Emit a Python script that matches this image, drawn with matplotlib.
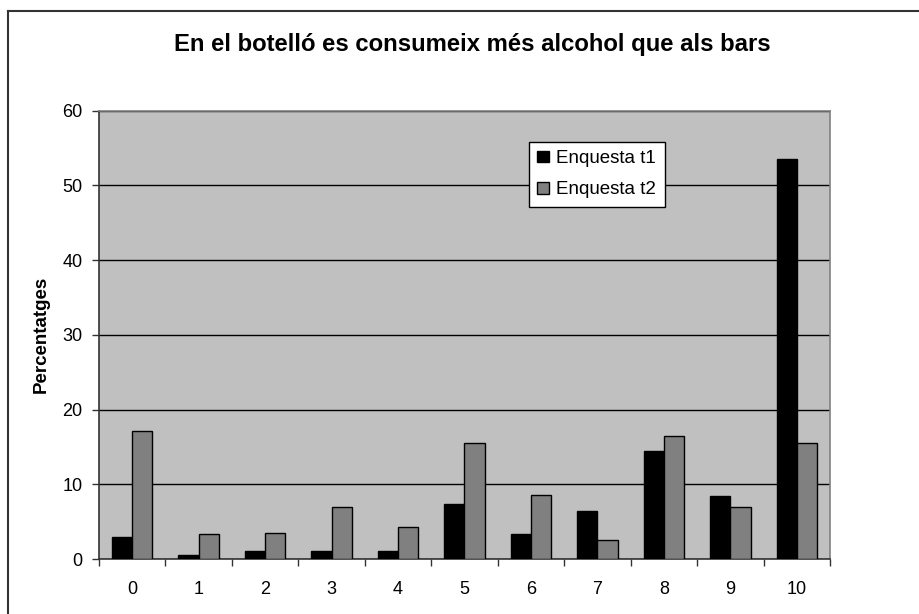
import numpy as np
import matplotlib
matplotlib.use("Agg")
import matplotlib.pyplot as plt
from matplotlib.lines import Line2D

plt.rcParams["font.family"] = ["Liberation Sans", "DejaVu Sans"]

# data
categories = ["0", "1", "2", "3", "4", "5", "6", "7", "8", "9", "10"]
enquesta_t1 = [3.0, 0.6, 1.1, 1.1, 1.1, 7.4, 3.3, 6.4, 14.5, 8.4, 53.5]
enquesta_t2 = [17.1, 3.4, 3.5, 6.9, 4.3, 15.5, 8.6, 2.6, 16.4, 6.9, 15.5]
series_names = ["Enquesta t1", "Enquesta t2"]
yticks = [0, 10, 20, 30, 40, 50, 60]

W, H = 919, 614
fig = plt.figure(figsize=(W / 100, H / 100), dpi=100)

# outer chart frame (cut off at right and bottom in the reference)
fx = 7.5 / W
fy = 1 - 10.7 / H
fig.add_artist(Line2D([fx, fx], [0, fy], transform=fig.transFigure, color="#333333", lw=1.5))
fig.add_artist(Line2D([fx, 1], [fy, fy], transform=fig.transFigure, color="#333333", lw=1.5))

left, right, top, bottom = 99, 830, 110.7, 559
ax = fig.add_axes([left / W, 1 - bottom / H, (right - left) / W, (bottom - top) / H])
ax.set_facecolor("#C0C0C0")

x = np.arange(len(categories)) + 0.5
w = 0.305
ax.bar(x - w / 2, enquesta_t1, width=w, color="black", edgecolor="black", lw=1,
       label=series_names[0], zorder=3)
ax.bar(x + w / 2, enquesta_t2, width=w, color="#808080", edgecolor="black", lw=1,
       label=series_names[1], zorder=3)

ax.set_xlim(0, len(categories))
ax.set_ylim(0, 60)
ax.set_yticks(yticks)
ax.yaxis.grid(True, color="black", lw=1)
ax.set_axisbelow(True)

# ticks between categories, labels at centres
ax.set_xticks(np.arange(len(categories) + 1))
ax.set_xticklabels([])
ax.set_xticks(x, minor=True)
ax.set_xticklabels(categories, minor=True)
ax.tick_params(axis="x", which="major", direction="out", length=5, width=1, color="#333333")
ax.tick_params(axis="x", which="minor", length=0, pad=16, labelsize=13)
ax.tick_params(axis="y", direction="out", length=5, width=1, color="#333333", pad=7, labelsize=13)

for s in ["top", "right"]:
    ax.spines[s].set_color("#808080")
    ax.spines[s].set_linewidth(1.2)
for s in ["left", "bottom"]:
    ax.spines[s].set_color("#333333")
    ax.spines[s].set_linewidth(1.2)

ax.set_ylabel("Percentatges", fontsize=13.5, fontweight="bold", labelpad=9)

fig.text(472 / W, 1 - 45 / H, "En el botelló es consumeix més alcohol que als bars",
         fontsize=17.2, fontweight="bold", ha="center", va="center")

leg = ax.legend(loc="upper left", bbox_to_anchor=(529 / W, 1 - 141.7 / H),
                bbox_transform=fig.transFigure, borderaxespad=0, fontsize=13.5,
                frameon=True, fancybox=False, handlelength=0.6, handleheight=0.6,
                handletextpad=0.4, borderpad=0.45, labelspacing=0.75)
leg.get_frame().set_edgecolor("black")
leg.get_frame().set_linewidth(1)
leg.get_frame().set_facecolor("white")
leg.get_frame().set_alpha(1)

fig.savefig("out.png", dpi=100)
